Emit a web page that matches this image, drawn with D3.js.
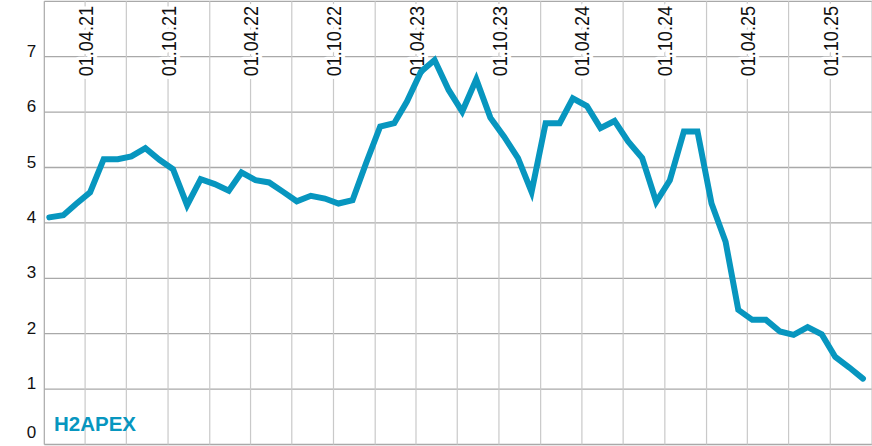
<!DOCTYPE html>
<html>
<head>
<meta charset="utf-8">
<script src="https://cdn.jsdelivr.net/npm/d3@7/dist/d3.min.js"></script>
<style>
  body { margin: 0; background: #fff; }
  svg { display: block; font-family: "Liberation Sans", Arial, Helvetica, sans-serif; }
</style>
</head>
<body>
<div id="chart"></div>
<script>
// monthly values, Jan 2021 .. Dec 2025
const months = [
  "2021-01","2021-02","2021-03","2021-04","2021-05","2021-06","2021-07","2021-08","2021-09","2021-10","2021-11","2021-12",
  "2022-01","2022-02","2022-03","2022-04","2022-05","2022-06","2022-07","2022-08","2022-09","2022-10","2022-11","2022-12",
  "2023-01","2023-02","2023-03","2023-04","2023-05","2023-06","2023-07","2023-08","2023-09","2023-10","2023-11","2023-12",
  "2024-01","2024-02","2024-03","2024-04","2024-05","2024-06","2024-07","2024-08","2024-09","2024-10","2024-11","2024-12",
  "2025-01","2025-02","2025-03","2025-04","2025-05","2025-06","2025-07","2025-08","2025-09","2025-10","2025-11","2025-12"
];
const values = [
  4.10, 4.14, 4.34, 4.55, 5.15, 5.15, 5.20, 5.35, 5.14, 4.97, 4.32, 4.79,
  4.70, 4.58, 4.91, 4.77, 4.73, 4.56, 4.39, 4.49, 4.44, 4.35, 4.41, 5.08,
  5.74, 5.80, 6.19, 6.73, 6.94, 6.40, 6.01, 6.59, 5.90, 5.56, 5.17, 4.56,
  5.80, 5.80, 6.25, 6.11, 5.71, 5.84, 5.47, 5.17, 4.38, 4.77, 5.65, 5.65,
  4.35, 3.66, 2.43, 2.25, 2.25, 2.04, 1.98, 2.12, 1.99, 1.58, 1.39, 1.19
];
const yTicks = [0, 1, 2, 3, 4, 5, 6, 7, 8];
const yLabels = ["0", "1", "2", "3", "4", "5", "6", "7"];
const dateLabels = ["01.04.21", "01.10.21", "01.04.22", "01.10.22", "01.04.23", "01.10.23", "01.04.24", "01.10.24", "01.04.25", "01.10.25"];
const brand = "H2APEX";

const W = 872, H = 446;
const margin = { top: 1.3, right: 0, bottom: 1.5, left: 44.3 };
const lineColor = "#0796bf";

const parseMonth = d3.utcParse("%Y-%m");
const parseLabel = d3.utcParse("%d.%m.%y");
const data = months.map((m, i) => ({ date: d3.utcDay.offset(parseMonth(m), 11), value: values[i] }));

const svg = d3.select("#chart").append("svg")
  .attr("width", W)
  .attr("height", H);

const x = d3.scaleUtc()
  .domain([new Date(Date.UTC(2021, 0, 1)), new Date(Date.UTC(2026, 0, 1))])
  .range([margin.left, W - margin.right]);

const y = d3.scaleLinear()
  .domain([0, 8])
  .range([H - margin.bottom, margin.top]);

// horizontal grid
svg.append("g")
  .selectAll("line")
  .data(yTicks)
  .join("line")
  .attr("x1", margin.left).attr("x2", W)
  .attr("y1", d => y(d)).attr("y2", d => y(d))
  .attr("stroke", "#a9a9a9")
  .attr("stroke-width", 1.3);

// vertical grid, one line per quarter
svg.append("g")
  .selectAll("line")
  .data(x.ticks(d3.utcMonth.every(3)))
  .join("line")
  .attr("x1", d => x(d)).attr("x2", d => x(d))
  .attr("y1", y(8)).attr("y2", y(0))
  .attr("stroke", d => +d === +x.domain()[0] ? "#a9a9a9" : "#c9c9c9")
  .attr("stroke-width", 1.2);

// rotated date labels with white halo (slightly condensed)
svg.append("g")
  .selectAll("text")
  .data(dateLabels)
  .join("text")
  .attr("transform", d => `translate(${x(parseLabel(d))},6) rotate(-90) scale(0.86,1)`)
  .attr("text-anchor", "end")
  .attr("dy", "0.36em")
  .attr("font-size", 21)
  .attr("fill", "#111")
  .attr("stroke", "#fff")
  .attr("stroke-width", 8)
  .attr("stroke-linejoin", "round")
  .attr("paint-order", "stroke")
  .text(d => d);

// line
const line = d3.line()
  .x(d => x(d.date))
  .y(d => y(d.value));

svg.append("path")
  .datum(data)
  .attr("d", line)
  .attr("fill", "none")
  .attr("stroke", lineColor)
  .attr("stroke-width", 6)
  .attr("stroke-linejoin", "miter")
  .attr("stroke-linecap", "round");

// y labels
svg.append("g")
  .selectAll("text")
  .data(yLabels)
  .join("text")
  .attr("x", 31.5)
  .attr("y", (d, i) => i === 0 ? y(+d) - 7 : y(+d))
  .attr("text-anchor", "middle")
  .attr("font-size", 17)
  .attr("fill", "#111")
  .text(d => d);

// brand
svg.append("text")
  .attr("x", 54)
  .attr("y", 431)
  .attr("font-size", 21)
  .attr("font-weight", "bold")
  .attr("fill", lineColor)
  .attr("textLength", 82)
  .attr("lengthAdjust", "spacingAndGlyphs")
  .text(brand);
</script>
</body>
</html>
